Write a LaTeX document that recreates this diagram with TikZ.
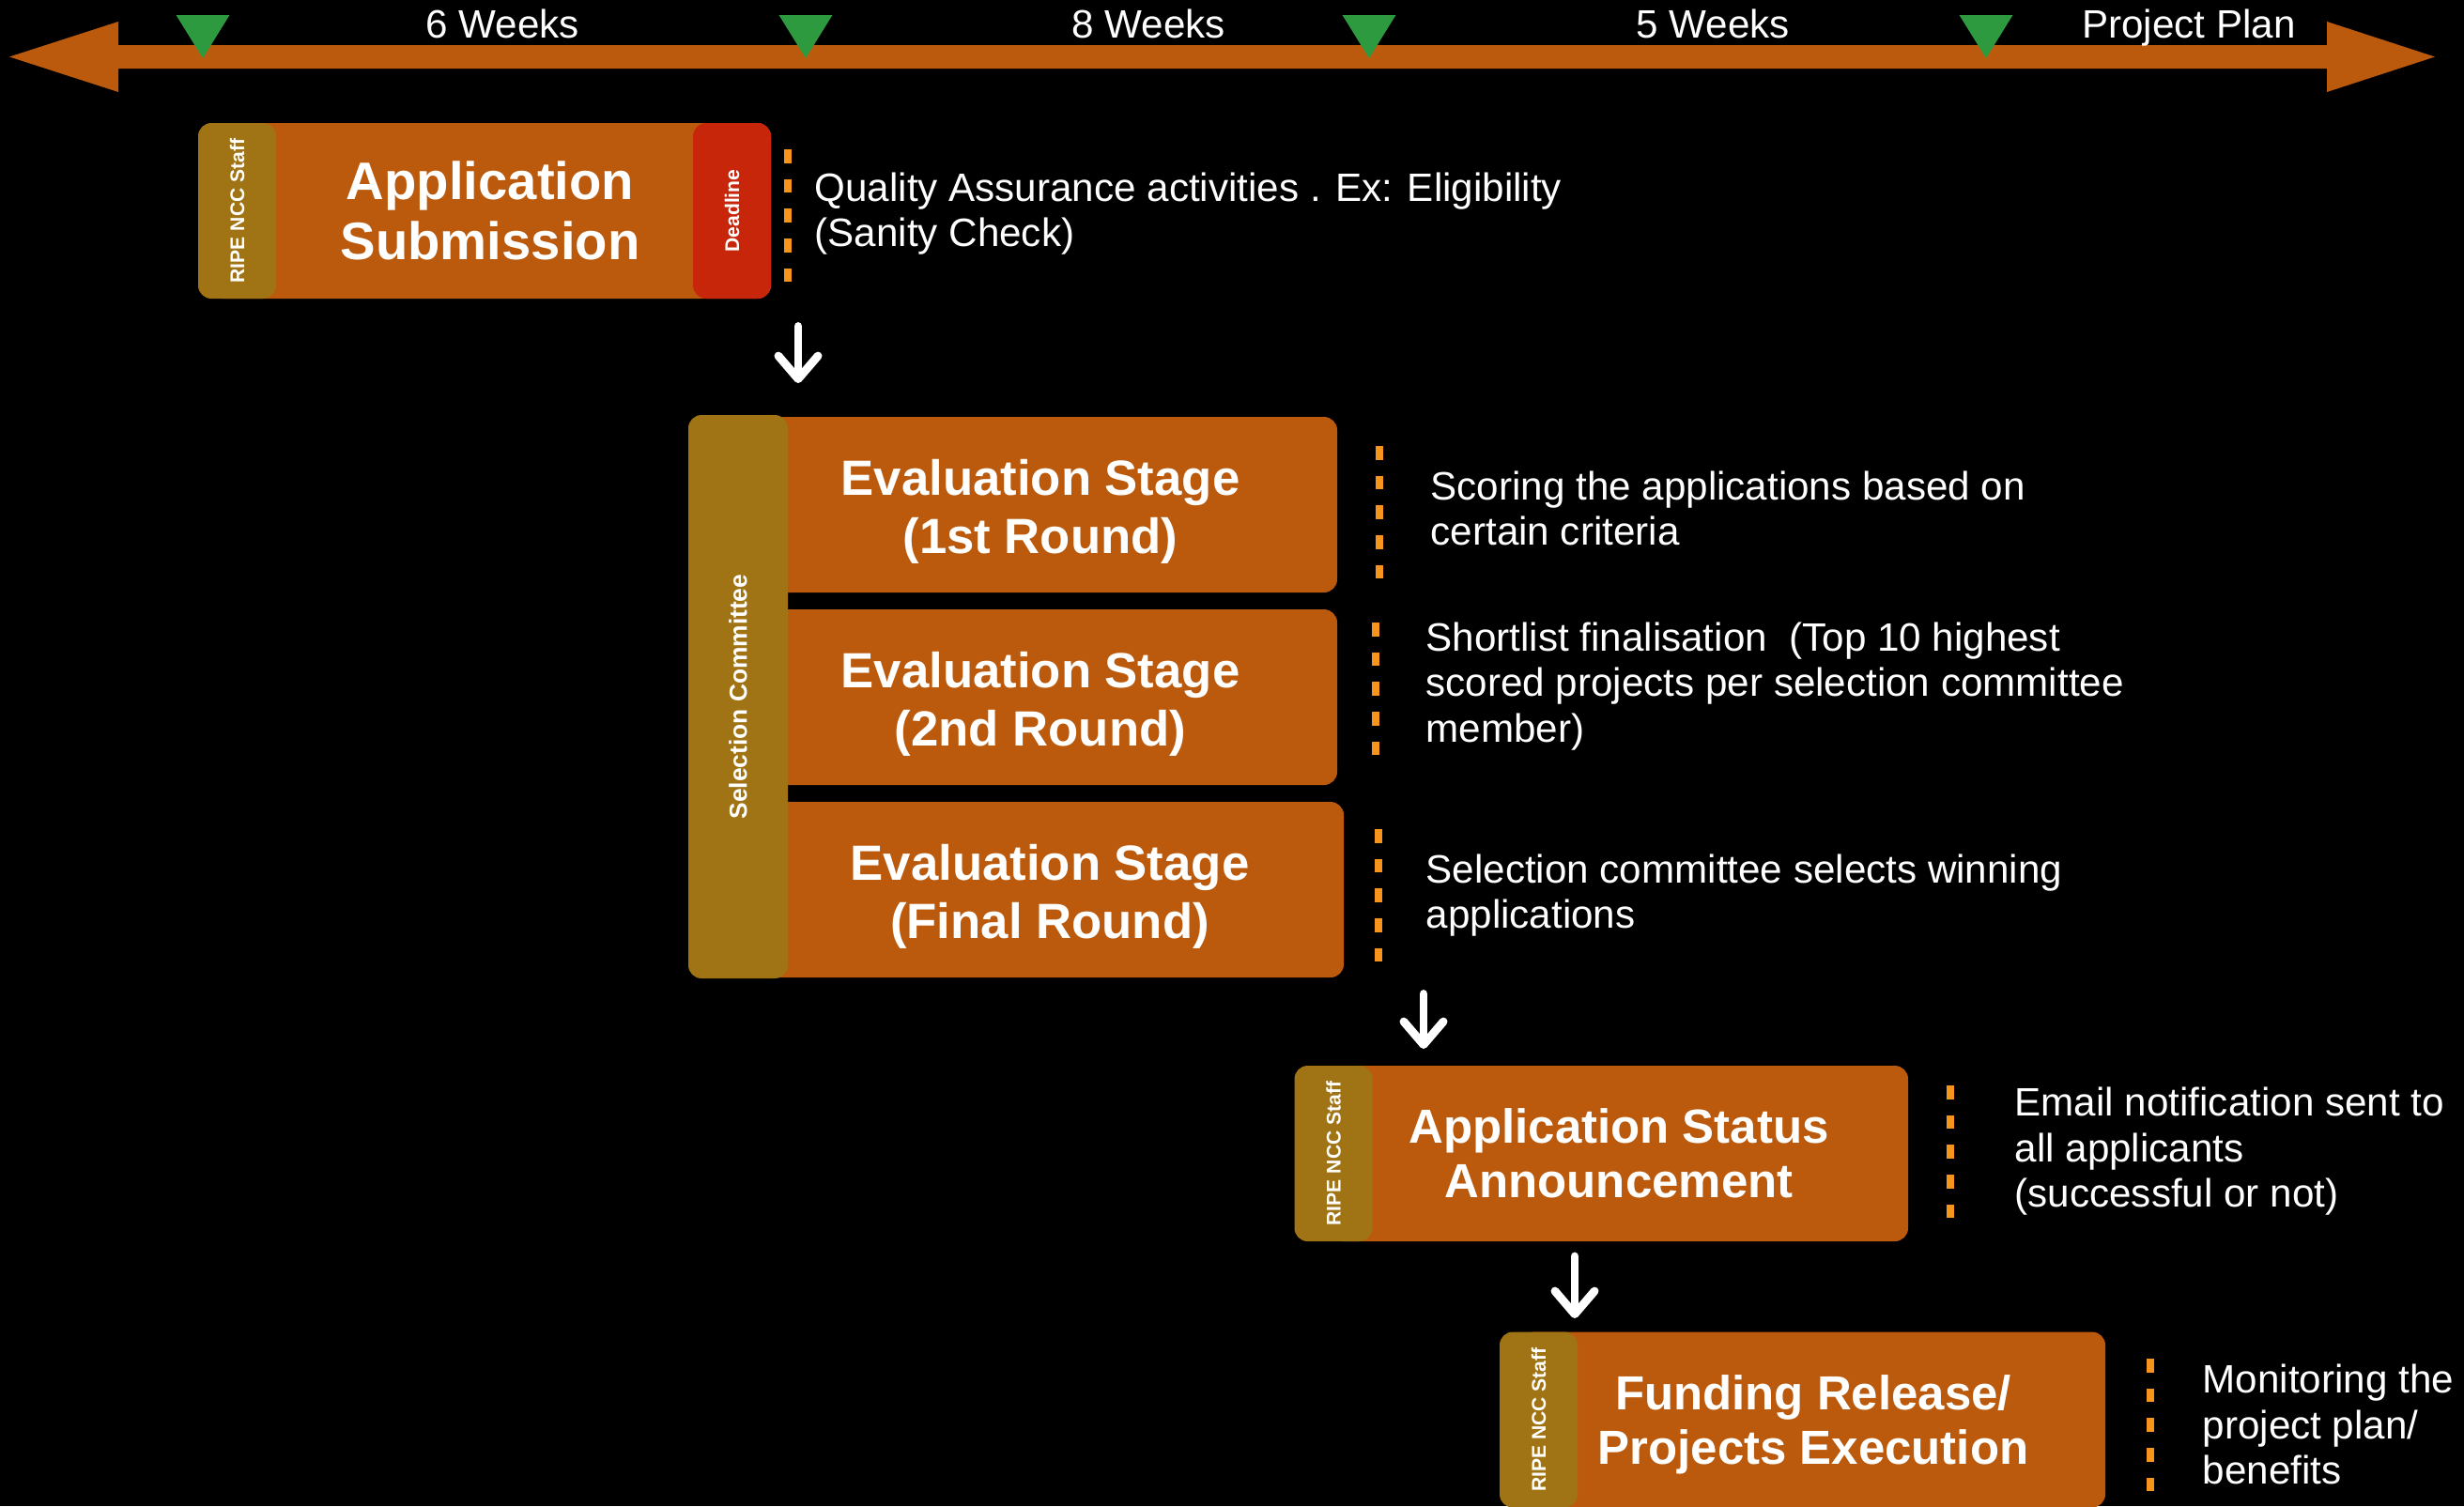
\documentclass[tikz,border=0pt]{standalone}
\usepackage{fontspec}
\setmainfont{Liberation Sans}
\usetikzlibrary{arrows.meta}

\definecolor{rust}{RGB}{187,90,12}
\definecolor{staffgold}{RGB}{160,116,20}
\definecolor{deadred}{RGB}{200,38,10}
\definecolor{milegreen}{RGB}{46,154,64}
\definecolor{dashorange}{RGB}{247,148,30}

\newcommand{\lowr}[1]{\rule{0pt}{#1}}

\tikzset{
  stage/.style = {fill=rust, rounded corners=4pt, text=white, align=center,
                  minimum height=1.87cm, inner sep=0pt},
  side/.style  = {fill=staffgold, rounded corners=4pt, text=white, rotate=90,
                  minimum height=0.83cm, inner sep=0pt,
                  font=\bfseries\fontsize{6}{7}\selectfont},
  note/.style  = {text=white, align=left, anchor=west, inner sep=0pt,
                  font=\fontsize{12}{13.8}\selectfont},
  week/.style  = {text=white, anchor=base, inner sep=0pt,
                  font=\fontsize{12}{14}\selectfont},
  sep/.style   = {dashorange, line width=2.3pt, dash pattern=on 4.2pt off 4.8pt},
  flow/.style  = {white, line width=2.5pt, line cap=round,
                  -{Straight Barb[length=7pt,width=12pt,round]}}
}

\begin{document}
\begin{tikzpicture}
  \useasboundingbox (0,0) rectangle (26.24,-16.04);
  \fill[black] (0,0) rectangle (26.24,-16.04);

  % timeline
  \fill[rust] (0.10,-0.605) -- (1.26,-0.23) -- (1.26,-0.48) -- (24.78,-0.48)
    -- (24.78,-0.23) -- (25.93,-0.605) -- (24.78,-0.98) -- (24.78,-0.73)
    -- (1.26,-0.73) -- (1.26,-0.98) -- cycle;
  \foreach \x in {2.16,8.58,14.58,21.15}
    \fill[milegreen] (\x-0.285,-0.16) -- (\x+0.285,-0.16) -- (\x,-0.62) -- cycle;
  \node[week] (w1) at (5.35,-0.405) {6 Weeks};
  \node[week] (w2) at (12.23,-0.405) {8 Weeks};
  \node[week] (w3) at (18.24,-0.405) {5 Weeks};
  \node[week] (w4) at (23.31,-0.405) {Project Plan};

  % application submission
  \node[stage, minimum width=5.98cm, font=\bfseries\fontsize{16}{18.4}\selectfont]
    (sub) at (5.22,-2.245) {Application\\Submission};
  \node[side, minimum width=1.87cm] (subs) at (2.525,-2.245) {RIPE NCC Staff};
  \node[side, fill=deadred, minimum width=1.87cm] (subd) at (7.795,-2.245) {Deadline};
  \draw[sep] (8.39,-1.59) -- (8.39,-3.03);
  \node[note] (subn) at (8.67,-2.275)
    {Quality Assurance activities . Ex: Eligibility\\(Sanity Check)};

  % evaluation stages
  \node[stage, minimum width=6.32cm, font=\bfseries\fontsize{15}{17.8}\selectfont]
    (ev1) at (11.08,-5.375) {\lowr{15pt}Evaluation Stage\\(1st Round)};
  \node[stage, minimum width=6.32cm, font=\bfseries\fontsize{15}{17.8}\selectfont]
    (ev2) at (11.08,-7.425) {\lowr{15pt}Evaluation Stage\\(2nd Round)};
  \node[stage, minimum width=6.26cm, font=\bfseries\fontsize{15}{17.8}\selectfont]
    (ev3) at (11.18,-9.475) {\lowr{15pt}Evaluation Stage\\(Final Round)};
  \node[side, minimum width=6.0cm, minimum height=1.06cm,
        font=\bfseries\fontsize{7.5}{9}\selectfont]
    (com) at (7.86,-7.42) {Selection Committee};
  \draw[sep] (14.69,-4.75) -- (14.69,-6.19);
  \draw[sep] (14.65,-6.63) -- (14.65,-8.06);
  \draw[sep] (14.68,-8.83) -- (14.68,-10.27);
  \node[note] (ev1n) at (15.23,-5.415)
    {Scoring the applications based on\\certain criteria};
  \node[note] (ev2n) at (15.18,-7.31)
    {Shortlist finalisation \ (Top 10 highest\\scored projects per selection committee\\member)};
  \node[note] (ev3n) at (15.18,-9.535)
    {Selection committee selects winning\\applications};

  % status announcement
  \node[stage, minimum width=6.16cm, font=\bfseries\fontsize{14.5}{16.6}\selectfont]
    (ann) at (17.24,-12.285) {Application Status\\Announcement};
  \node[side, minimum width=1.87cm] (anns) at (14.20,-12.285) {RIPE NCC Staff};
  \draw[sep] (20.77,-11.56) -- (20.77,-12.99);
  \node[note] (annn) at (21.45,-12.265)
    {Email notification sent to\\all applicants\\(successful or not)};

  % funding release
  \node[stage, minimum width=6.22cm, font=\bfseries\fontsize{14.5}{16.4}\selectfont]
    (fund) at (19.31,-15.12) {\lowr{13.5pt}Funding Release/\\Projects Execution};
  \node[side, minimum width=1.87cm] (funds) at (16.385,-15.12) {RIPE NCC Staff};
  \draw[sep] (22.90,-14.47) -- (22.90,-15.90);
  \node[note] (fundn) at (23.45,-15.17)
    {Monitoring the\\project plan/\\benefits};

  % flow arrows
  \coordinate (a1) at (8.50,-3.475);
  \coordinate (b1) at (8.50,-4.08);
  \coordinate (a2) at (15.16,-10.585);
  \coordinate (b2) at (15.16,-11.17);
  \coordinate (a3) at (16.77,-13.38);
  \coordinate (b3) at (16.77,-14.04);
  \draw[flow] (a1) -- (b1);
  \draw[flow] (a2) -- (b2);
  \draw[flow] (a3) -- (b3);
\end{tikzpicture}
\end{document}
